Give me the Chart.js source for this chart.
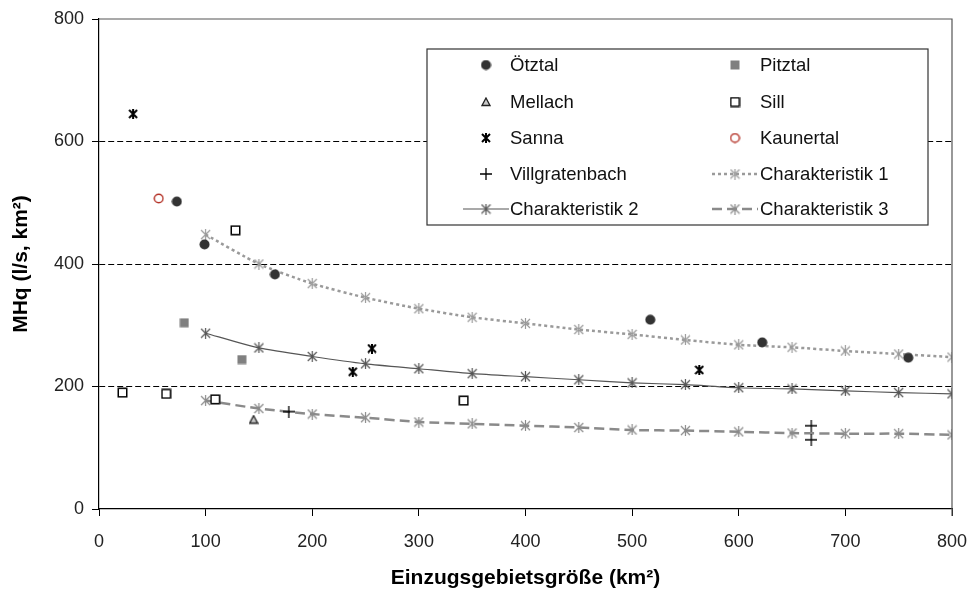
<!DOCTYPE html>
<html>
<head>
<meta charset="utf-8">
<script src="https://cdn.jsdelivr.net/npm/chart.js@4/dist/chart.umd.min.js"></script>
<style>
html, body { margin: 0; padding: 0; background: #fff; }
#wrap { width: 977px; height: 596px; }
</style>
</head>
<body>
<div id="wrap"><canvas id="graph1" width="977" height="596"></canvas></div>
<script>
// Messpunkte: [Einzugsgebiet km², MHq l/s km²]
const oetztal = [[73, 502], [99, 432], [165, 383], [517, 309], [622, 272], [759, 247]];
const pitztal = [[80, 304], [134, 244]];
const mellach = [[145, 146]];
const sill = [[22, 190], [63, 188], [109, 179], [128, 455], [342, 177]];
const sanna = [[32, 645], [238, 224], [256, 262], [563, 227]];
const kaunertal = [[56, 507]];
const villgratenbach = [[178, 159], [668, 136], [668, 113]];

// Charakteristiken
const charX = [100, 150, 200, 250, 300, 350, 400, 450, 500, 550, 600, 650, 700, 750, 800];
const char1 = [448, 400, 368, 345, 327, 313, 303, 293, 285, 276, 268, 264, 258, 253, 248];
const char2 = [287, 263, 249, 237, 229, 221, 216, 211, 206, 203, 198, 196, 193, 190, 188];
const char3 = [177, 164, 155, 149, 142, 139, 136, 133, 129, 128, 126, 124, 123, 123, 121];

const xTicks = [0, 100, 200, 300, 400, 500, 600, 700, 800];
const yTicks = [0, 200, 400, 600, 800];
const gridAt = [200, 400, 600];

const FONT = "'Liberation Sans', Arial, sans-serif";

// kleine Canvas-Marker wie in Excel
function marker(kind, stroke, fill, size, lw) {
    const c = document.createElement('canvas');
    c.width = size;
    c.height = size;
    const g = c.getContext('2d');
    const m = size / 2;
    g.strokeStyle = stroke;
    g.fillStyle = fill;
    g.lineWidth = lw;
    g.beginPath();
    if (kind === 'circle') {
        g.arc(m, m, m - lw / 2 - 0.5, 0, Math.PI * 2);
        g.fill();
        if (lw) g.stroke();
    } else if (kind === 'square') {
        const p = lw / 2 + 0.5;
        g.rect(p, p, size - 2 * p, size - 2 * p);
        g.fill();
        if (lw) g.stroke();
    } else if (kind === 'triangle') {
        g.moveTo(m, 1);
        g.lineTo(size - 1, size - 1.5);
        g.lineTo(1, size - 1.5);
        g.closePath();
        g.fill();
        g.stroke();
    } else if (kind === 'plus') {
        g.moveTo(m, 0); g.lineTo(m, size);
        g.moveTo(0, m); g.lineTo(size, m);
        g.stroke();
    } else if (kind === 'star') {
        g.moveTo(1, 1); g.lineTo(size - 1, size - 1);
        g.moveTo(size - 1, 1); g.lineTo(1, size - 1);
        g.moveTo(m, 0); g.lineTo(m, size);
        g.stroke();
    }
    return c;
}

const toXY = arr => arr.map(p => ({ x: p[0], y: p[1] }));
const charData = ys => charX.map((x, i) => ({ x: x, y: ys[i] }));

const datasets = [
    { label: 'Ötztal', data: toXY(oetztal), pointStyle: marker('circle', '#333', '#333', 11, 0) },
    { label: 'Pitztal', data: toXY(pitztal), pointStyle: marker('square', '#808080', '#808080', 10, 0) },
    { label: 'Mellach', data: toXY(mellach), pointStyle: marker('triangle', '#222', '#c8c8c8', 10, 1.3) },
    { label: 'Sill', data: toXY(sill), pointStyle: marker('square', '#000', '#fff', 11, 1.5) },
    { label: 'Sanna', data: toXY(sanna), pointStyle: marker('star', '#000', '#000', 10, 2) },
    { label: 'Kaunertal', data: toXY(kaunertal), pointStyle: marker('circle', '#b5352a', '#fff', 11, 1.4) },
    { label: 'Villgratenbach', data: toXY(villgratenbach), pointStyle: marker('plus', '#000', '#000', 12, 1.3) },
    {
        label: 'Charakteristik 1', data: charData(char1), showLine: true, order: 10,
        borderColor: '#9a9a9a', borderWidth: 2.5, borderDash: [3, 3], tension: 0.2,
        pointStyle: marker('star', '#9a9a9a', '#9a9a9a', 11, 1.2)
    },
    {
        label: 'Charakteristik 2', data: charData(char2), showLine: true, order: 10,
        borderColor: '#555', borderWidth: 1.2, tension: 0.2,
        pointStyle: marker('star', '#555', '#555', 11, 1.2)
    },
    {
        label: 'Charakteristik 3', data: charData(char3), showLine: true, order: 10,
        borderColor: '#8a8a8a', borderWidth: 2.5, borderDash: [10, 5], tension: 0.2,
        pointStyle: marker('star', '#8a8a8a', '#8a8a8a', 11, 1.2)
    }
];

// Rahmen oben und rechts
const frame = {
    id: 'frame',
    afterDatasetsDraw(chart) {
        const { ctx, chartArea: a } = chart;
        ctx.save();
        ctx.strokeStyle = '#555';
        ctx.lineWidth = 1.2;
        ctx.beginPath();
        ctx.moveTo(a.left, a.top);
        ctx.lineTo(a.right, a.top);
        ctx.lineTo(a.right, a.bottom + 7);
        ctx.stroke();
        ctx.restore();
    }
};

// Legende in zwei Spalten mit Rahmen
const boxLegend = {
    id: 'boxLegend',
    afterDraw(chart) {
        const ctx = chart.ctx;
        const box = { l: 427, t: 49, r: 928, b: 225 };
        const rows = [65, 102, 138, 174, 209];
        const cols = [{ mx: 486, tx: 510 }, { mx: 735, tx: 760 }];
        ctx.save();
        ctx.fillStyle = '#fff';
        ctx.fillRect(box.l, box.t, box.r - box.l, box.b - box.t);
        ctx.strokeStyle = '#333';
        ctx.lineWidth = 1.2;
        ctx.strokeRect(box.l, box.t, box.r - box.l, box.b - box.t);
        chart.data.datasets.forEach((ds, i) => {
            const y = rows[Math.floor(i / 2)];
            const col = cols[i % 2];
            if (ds.showLine) {
                ctx.save();
                ctx.strokeStyle = ds.borderColor;
                ctx.lineWidth = ds.borderWidth;
                ctx.setLineDash(ds.borderDash || []);
                ctx.beginPath();
                ctx.moveTo(col.mx - 23, y);
                ctx.lineTo(col.mx + 23, y);
                ctx.stroke();
                ctx.restore();
            }
            const img = ds.pointStyle;
            ctx.drawImage(img, col.mx - img.width / 2, y - img.height / 2);
            ctx.fillStyle = '#111';
            ctx.font = '18.5px ' + FONT;
            ctx.textBaseline = 'middle';
            ctx.textAlign = 'left';
            ctx.fillText(ds.label, col.tx, y + 1);
        });
        ctx.restore();
    }
};

const config = {
    type: 'scatter',
    data: { datasets: datasets },
    plugins: [frame, boxLegend],
    options: {
        responsive: false,
        animation: false,
        events: [],
        layout: { padding: { left: 0, top: 19, right: 25, bottom: 0 } },
        elements: { point: { radius: 5 } },
        scales: {
            x: {
                type: 'linear',
                min: 0,
                max: 800,
                afterBuildTicks: scale => { scale.ticks = xTicks.map(v => ({ value: v })); },
                afterFit: scale => {
                    scale.height = 87;
                    scale.paddingLeft = 0;
                    scale.paddingRight = 0;
                },
                grid: { drawOnChartArea: false, tickLength: 7, tickColor: '#000', tickWidth: 1 },
                border: { color: '#000', width: 1.2 },
                ticks: { color: '#222', padding: 15, font: { family: FONT, size: 18 } },
                title: {
                    display: true,
                    text: 'Einzugsgebietsgröße (km²)',
                    color: '#000',
                    padding: { top: 0, bottom: 5 },
                    font: { family: FONT, size: 21, weight: 'bold' }
                }
            },
            y: {
                type: 'linear',
                min: 0,
                max: 800,
                afterBuildTicks: scale => { scale.ticks = yTicks.map(v => ({ value: v })); },
                afterFit: scale => { scale.width = 99; },
                grid: {
                    color: c => (c.tick && gridAt.includes(c.tick.value)) ? '#000' : 'rgba(0,0,0,0)',
                    lineWidth: 1,
                    tickLength: 7,
                    tickColor: '#000',
                    tickWidth: 1,
                    tickBorderDash: []
                },
                border: { color: '#000', width: 1.2, dash: [6, 3] },
                ticks: { color: '#222', padding: 8, font: { family: FONT, size: 18 } },
                title: {
                    display: true,
                    text: 'MHq (l/s, km²)',
                    color: '#000',
                    padding: { top: 9, bottom: 0 },
                    font: { family: FONT, size: 21, weight: 'bold' }
                }
            }
        },
        plugins: {
            legend: { display: false },
            tooltip: { enabled: false }
        }
    }
};

const myChart = new Chart(document.getElementById('graph1'), config);
</script>
</body>
</html>
